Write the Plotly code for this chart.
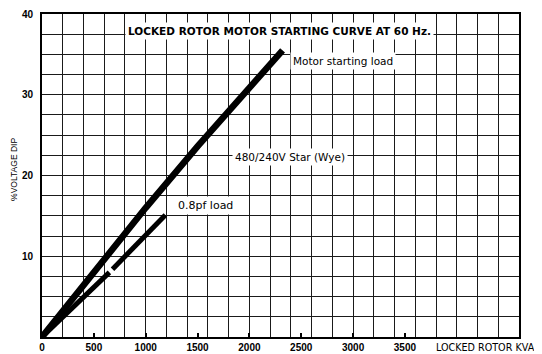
import plotly.graph_objects as go

# Data
motor_kva = [0, 500, 830, 1000, 1500, 2000, 2320]
motor_dip = [0, 8.0, 13.2, 16.0, 23.6, 30.9, 35.5]

pf_kva = [0, 400, 650, None, 680, 1190]
pf_dip = [0, 4.8, 8.0, None, 8.4, 15.1]

x_ticks = [0, 500, 1000, 1500, 2000, 2500, 3000, 3500]
y_ticks = [10, 20, 30, 40]

FONT = "Liberation Sans"
LFONT = "DejaVu Sans"

fig = go.Figure()
fig.add_trace(go.Scatter(x=motor_kva, y=motor_dip, mode="lines",
                         line=dict(color="black", width=6.5), hoverinfo="skip"))
fig.add_trace(go.Scatter(x=pf_kva, y=pf_dip, mode="lines",
                         line=dict(color="black", width=5), hoverinfo="skip"))

grid = "#1a1a1a"
fig.update_xaxes(range=[0, 4600], tickvals=x_ticks, ticktext=[str(v) for v in x_ticks],
                 ticks="inside", ticklen=4, tickcolor="black", tickwidth=2,
                 showgrid=False, zeroline=False, automargin=False,
                 showline=True, linecolor="black", linewidth=1.5, mirror=True,
                 minor=dict(dtick=200, tick0=0, showgrid=True, gridcolor=grid, gridwidth=1),
                 tickfont=dict(family=FONT, size=10, color="black", weight="bold"))
fig.update_yaxes(range=[0, 40], tickvals=y_ticks, ticks="",
                 showgrid=True, gridcolor=grid, gridwidth=1, zeroline=False, automargin=False,
                 showline=True, linecolor="black", linewidth=2, mirror=True,
                 minor=dict(dtick=2.5, tick0=0, showgrid=True, gridcolor=grid, gridwidth=1),
                 tickfont=dict(family=FONT, size=10, color="black", weight="bold"),
                 ticklabelstandoff=5)

anns = [
    dict(x=2290, y=37.9, text="<b>LOCKED ROTOR MOTOR STARTING CURVE AT 60 Hz.</b>",
         xanchor="center", font=dict(size=10.5)),
    dict(x=2390, y=34.2, text="Motor starting load", xanchor="left", font=dict(size=10.5)),
    dict(x=1830, y=22.3, text="480/240V Star (Wye)", xanchor="left", font=dict(size=10.5)),
    dict(x=1280, y=16.3, text="0.8pf load", xanchor="left", font=dict(size=11)),
]
for a in anns:
    a["font"].update(family=LFONT, color="black")
    fig.add_annotation(xref="x", yref="y", showarrow=False, bgcolor="white",
                       borderpad=2, yanchor="middle", **a)

fig.add_annotation(xref="paper", yref="paper", x=0.822, y=-0.031, xanchor="left",
                   yanchor="middle", showarrow=False, text="LOCKED ROTOR KVA",
                   font=dict(family=LFONT, size=9.6, color="black"))
fig.add_annotation(xref="paper", yref="paper", x=-0.059, y=0.52, xanchor="center",
                   yanchor="middle", showarrow=False, text="%VOLTAGE DIP", textangle=-90,
                   font=dict(family=FONT, size=8.5, color="black"))

# page body has an 8px margin; size the figure to fill the window
fig.update_layout(width=534, height=346, margin=dict(l=34, r=23, t=6, b=17),
                  paper_bgcolor="white", plot_bgcolor="white", showlegend=False)

fig.write_html("out.html")
